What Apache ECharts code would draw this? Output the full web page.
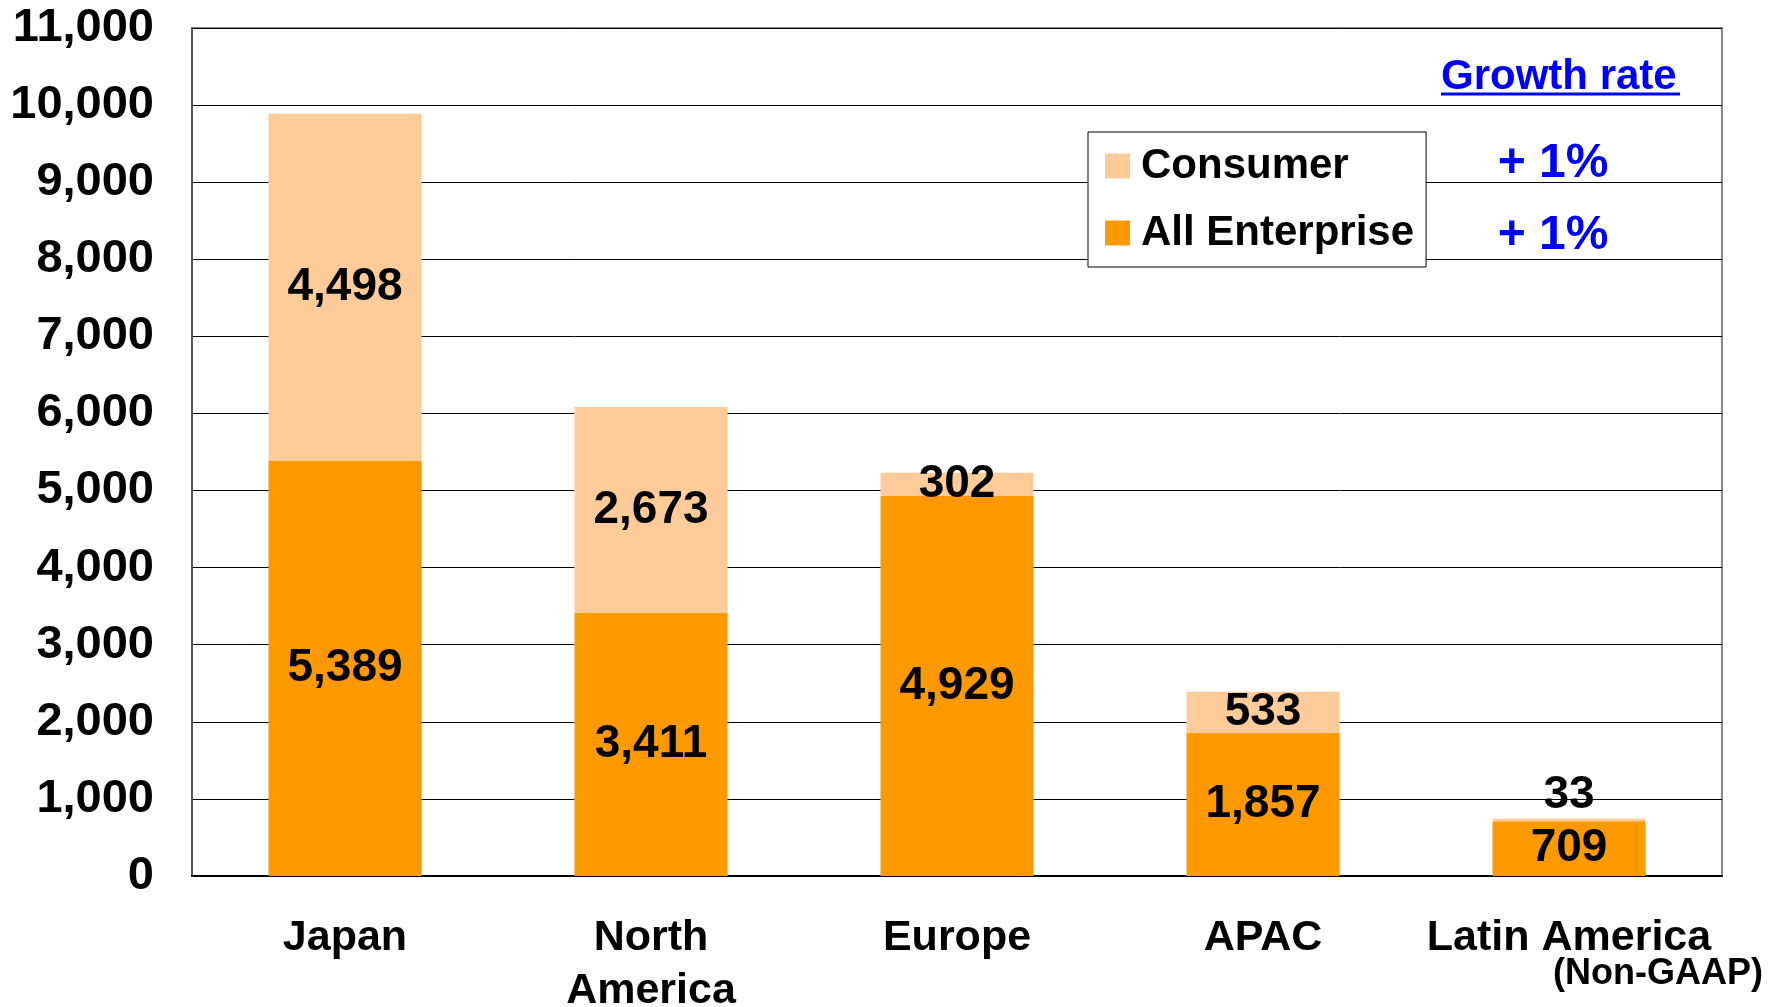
<!DOCTYPE html>
<html>
<head>
<meta charset="utf-8">
<script src="https://cdn.jsdelivr.net/npm/echarts@6/dist/echarts.min.js"></script>
<style>
  html, body { margin: 0; padding: 0; background: #fff; }
  #chart-dev { width: 1783px; height: 1007px; }
</style>
</head>
<body>
<div id="chart-dev"></div>
<script>
var regions = ['Japan', 'North\nAmerica', 'Europe', 'APAC', 'Latin America'];
var enterprise = [5389, 3411, 4929, 1857, 709];
var consumer = [4498, 2673, 302, 533, 33];
var growthRates = ['+ 1%', '+ 1%'];

var FONT = '"Liberation Sans", Arial, sans-serif';

var dom = document.getElementById('chart-dev');
var myChart = echarts.init(dom, null, {
    renderer: 'canvas',
    useDirtyRect: false
});

function fmt(v) {
    return Number(v).toLocaleString('en-US');
}

var labelStyle = {
    show: true,
    color: '#000',
    fontFamily: FONT,
    fontWeight: 'bold',
    fontSize: 46,
    formatter: function (p) { return fmt(p.value); }
};

// tiny segments get their label on top instead of inside
var consumerData = consumer.map(function (v) {
    if (v < 100) {
        return { value: v, label: { position: 'top', distance: 0 } };
    }
    return v;
});

var option = {
    animation: false,
    textStyle: { fontFamily: FONT },
    grid: {
        left: 192,
        right: 61,
        top: 28,
        bottom: 131,
        outerBoundsMode: 'none',
        containLabel: false,
        show: true,
        borderColor: '#888',
        borderWidth: 2
    },
    legend: {
        data: ['Consumer', 'All Enterprise'],
        orient: 'vertical',
        left: 1088,
        top: 132,
        padding: [13, 12, 13, 17],
        itemWidth: 25,
        itemHeight: 25,
        itemGap: 25,
        backgroundColor: '#fff',
        borderColor: '#000',
        borderWidth: 1,
        icon: 'rect',
        textStyle: {
            color: '#000',
            fontFamily: FONT,
            fontWeight: 'bold',
            fontSize: 42,
            lineHeight: 42,
            padding: [0, 0, 0, 6]
        }
    },
    xAxis: {
        type: 'category',
        data: regions,
        axisLine: { lineStyle: { color: '#000', width: 2 } },
        axisTick: { inside: true, length: 13, lineStyle: { color: '#000' } },
        axisLabel: {
            color: '#000',
            fontFamily: FONT,
            fontWeight: 'bold',
            fontSize: 43,
            lineHeight: 53,
            margin: 36,
            interval: 0
        }
    },
    yAxis: {
        type: 'value',
        min: 0,
        max: 11000,
        interval: 1000,
        axisLine: { show: true, lineStyle: { color: '#555', width: 2 } },
        axisTick: { show: false },
        splitLine: { lineStyle: { color: '#000', width: 1 } },
        axisLabel: {
            color: '#000',
            fontFamily: FONT,
            fontWeight: 'bold',
            fontSize: 47,
            margin: 38,
            formatter: fmt
        }
    },
    series: [
        {
            name: 'All Enterprise',
            type: 'bar',
            stack: 'total',
            barCategoryGap: '50%',
            itemStyle: { color: '#FF9900' },
            label: Object.assign({ position: 'inside' }, labelStyle),
            data: enterprise
        },
        {
            name: 'Consumer',
            type: 'bar',
            stack: 'total',
            barCategoryGap: '50%',
            itemStyle: { color: '#FFCC99' },
            label: Object.assign({ position: 'inside' }, labelStyle),
            data: consumerData
        }
    ],
    graphic: [
        {
            type: 'text',
            left: 1441,
            top: 56,
            style: {
                text: 'Growth rate',
                fill: '#0000FF',
                font: 'bold 42px ' + FONT
            }
        },
        {
            type: 'line',
            shape: { x1: 1441, y1: 94, x2: 1680, y2: 94 },
            style: { stroke: '#0000FF', lineWidth: 3 }
        },
        {
            type: 'text',
            x: 1553,
            y: 164,
            style: {
                text: growthRates[0],
                fill: '#0000FF',
                font: 'bold 48px ' + FONT,
                align: 'center',
                verticalAlign: 'middle'
            }
        },
        {
            type: 'text',
            x: 1553,
            y: 236,
            style: {
                text: growthRates[1],
                fill: '#0000FF',
                font: 'bold 48px ' + FONT,
                align: 'center',
                verticalAlign: 'middle'
            }
        },
        {
            type: 'text',
            x: 1763,
            y: 974,
            style: {
                text: '(Non-GAAP)',
                fill: '#000',
                font: 'bold 36px ' + FONT,
                align: 'right',
                verticalAlign: 'middle'
            }
        }
    ]
};

if (option && typeof option === 'object') {
    myChart.setOption(option);
}

window.addEventListener('resize', myChart.resize);
</script>
</body>
</html>
